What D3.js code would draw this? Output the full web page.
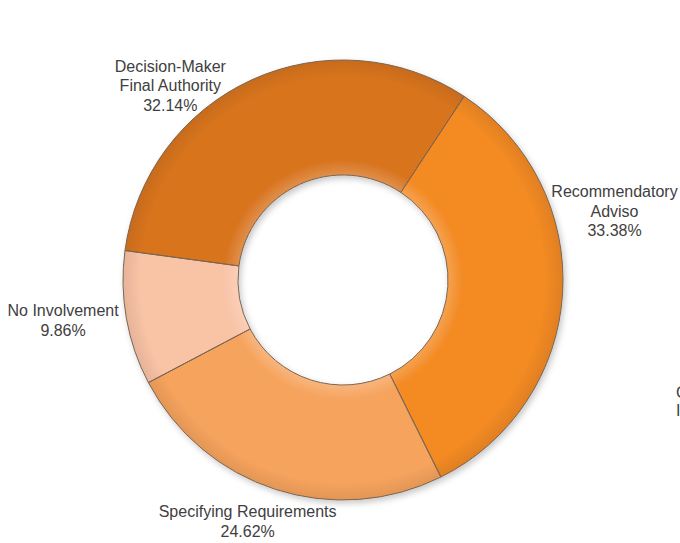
<!DOCTYPE html>
<html>
<head>
<meta charset="utf-8">
<script src="https://cdn.jsdelivr.net/npm/d3@7"></script>
<style>
  html, body { margin: 0; padding: 0; background: #fff; overflow: hidden; }
  #vis text { font-family: "Liberation Sans", Arial, sans-serif; font-size: 16px; fill: #404040; }
</style>
</head>
<body>
<div id="vis"></div>
<script>
// slice order follows the ring clockwise, starting at the Recommendatory edge
const categories = ["Recommendatory\nAdviso", "Specifying Requirements", "No Involvement", "Decision-Maker\nFinal Authority"];
const shares = [33.38, 24.62, 9.86, 32.14];
const shareLabels = ["33.38%", "24.62%", "9.86%", "32.14%"];
const colors = ["#f38a24", "#f6a35d", "#f9c3a6", "#d8741f"];

function createVis() {
  const width = 680;
  const height = 543;
  const cx = 343, cy = 280;
  const outerR = 220, innerR = 105;

  const svg = d3.select("#vis")
    .append("svg")
    .attr("width", width)
    .attr("height", height)
    .attr("viewBox", [0, 0, width, height]);

  const defs = svg.append("defs");
  const shadow = defs.append("filter")
    .attr("id", "shadow")
    .attr("x", "-20%").attr("y", "-20%")
    .attr("width", "140%").attr("height", "140%");
  shadow.append("feDropShadow")
    .attr("dx", 2).attr("dy", 3)
    .attr("stdDeviation", 3)
    .attr("flood-color", "#000")
    .attr("flood-opacity", 0.22);

  // soft bevel: lighter near the inner edge, darker towards the rim
  const bevel = defs.append("radialGradient")
    .attr("id", "bevel")
    .attr("gradientUnits", "userSpaceOnUse")
    .attr("cx", 0).attr("cy", 0).attr("r", outerR);
  bevel.append("stop").attr("offset", innerR / outerR).attr("stop-color", "#fff").attr("stop-opacity", 0.2);
  bevel.append("stop").attr("offset", (innerR + 15) / outerR).attr("stop-color", "#fff").attr("stop-opacity", 0.0);
  bevel.append("stop").attr("offset", 0.92).attr("stop-color", "#000").attr("stop-opacity", 0.0);
  bevel.append("stop").attr("offset", 1).attr("stop-color", "#000").attr("stop-opacity", 0.08);

  const pie = d3.pie()
    .sort(null)
    .value(d => d)
    .startAngle(33.4 * Math.PI / 180)
    .endAngle(33.4 * Math.PI / 180 + 2 * Math.PI);

  const arcs = pie(shares);
  const arc = d3.arc().innerRadius(innerR).outerRadius(outerR);

  const g = svg.append("g").attr("transform", `translate(${cx},${cy})`);

  const ring = g.append("g").attr("filter", "url(#shadow)");
  ring.selectAll("path.slice")
    .data(arcs)
    .join("path")
    .attr("class", "slice")
    .attr("d", arc)
    .attr("fill", (d, i) => colors[i]);

  ring.selectAll("path.bevel")
    .data(arcs)
    .join("path")
    .attr("class", "bevel")
    .attr("d", arc)
    .attr("fill", "url(#bevel)")
    .attr("stroke", "#7b6550")
    .attr("stroke-width", 1);

  // outside-end labels, nudged the way the source chart has them
  const labelArc = d3.arc().innerRadius(outerR + 45).outerRadius(outerR + 45);
  const nudge = [[7, -85], [-14, -11], [-19, -6], [-63, 47]];
  const lineH = 19.5;

  const labels = g.selectAll("text.label")
    .data(arcs)
    .join("text")
    .attr("class", "label")
    .attr("text-anchor", "middle")
    .attr("transform", (d, i) => {
      const c = labelArc.centroid(d);
      return `translate(${c[0] + nudge[i][0]},${c[1] + nudge[i][1]})`;
    });

  labels.each(function(d, i) {
    const lines = categories[i].split("\n").concat(shareLabels[i]);
    const t = d3.select(this);
    const y0 = -(lines.length - 1) * lineH / 2;
    lines.forEach((line, j) => {
      t.append("tspan")
        .attr("x", 0)
        .attr("y", y0 + j * lineH)
        .attr("dy", "0.35em")
        .text(line);
    });
  });

  // a further label sits past the right edge and is clipped by the frame
  const stray = svg.append("text")
    .attr("text-anchor", "start")
    .attr("transform", "translate(676,392)");
  stray.append("tspan").attr("x", 0).attr("y", 0).attr("dy", "0.35em").text("Consultative");
  stray.append("tspan").attr("x", 0).attr("y", 18).attr("dy", "0.35em").text("Input");
}

window.addEventListener("load", createVis);
</script>
</body>
</html>
